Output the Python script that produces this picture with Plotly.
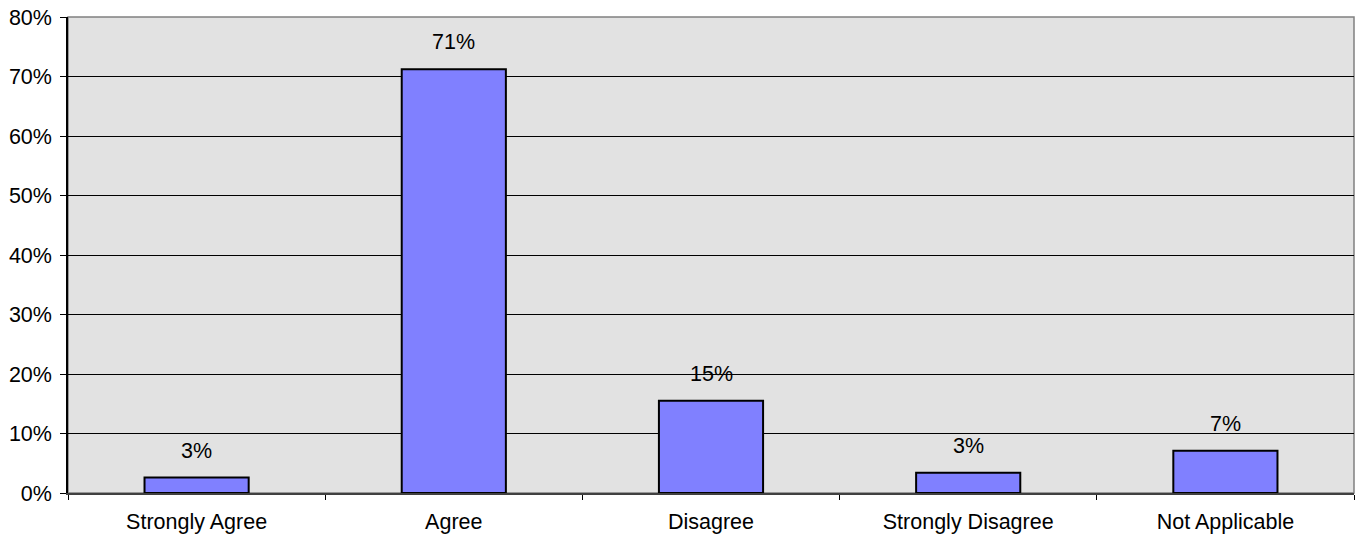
import plotly.graph_objects as go

categories = ["Strongly Agree", "Agree", "Disagree", "Strongly Disagree", "Not Applicable"]
values = [2.6, 71.2, 15.5, 3.4, 7.1]
labels = ["3%", "71%", "15%", "3%", "7%"]
y_ticks = [0, 10, 20, 30, 40, 50, 60, 70, 80]
y_tick_text = [f"{t}%" for t in y_ticks]

font = dict(family="Liberation Sans, Arial, sans-serif", size=21.5, color="black")

fig = go.Figure()
fig.add_trace(go.Bar(
    x=categories, y=values,
    marker=dict(color="#8080ff", line=dict(color="black", width=2)),
    hoverinfo="skip",
))

for c, v, t in zip(categories, values, labels):
    fig.add_annotation(x=c, y=v, text=t, showarrow=False, yanchor="bottom",
                       yshift=13, font=font)

fig.add_shape(type="rect", xref="paper", yref="paper", x0=0, y0=0, x1=1, y1=1,
              line=dict(color="#808080", width=1.5), layer="below")

fig.update_layout(
    width=1363, height=539,
    margin=dict(l=68, r=9, t=17, b=46),
    paper_bgcolor="white",
    plot_bgcolor="#e2e2e2",
    bargap=0.595,
    showlegend=False,
    font=font,
    xaxis=dict(
        showgrid=False, showline=True, linecolor="#404040", linewidth=1.5,
        ticks="outside", tickson="boundaries", ticklen=5, tickcolor="black",
        ticklabelstandoff=8, tickfont=font, automargin=False,
    ),
    yaxis=dict(
        range=[0, 80], tickvals=y_ticks, ticktext=y_tick_text,
        showgrid=True, gridcolor="black", gridwidth=1,
        showline=True, linecolor="black", linewidth=1.5,
        ticks="outside", ticklen=6, tickcolor="black",
        ticklabelstandoff=4, automargin=False,
        zeroline=False, tickfont=font,
    ),
)

fig.write_html("out.html", config={"displayModeBar": False},
               post_script="document.body.style.margin='0';")
